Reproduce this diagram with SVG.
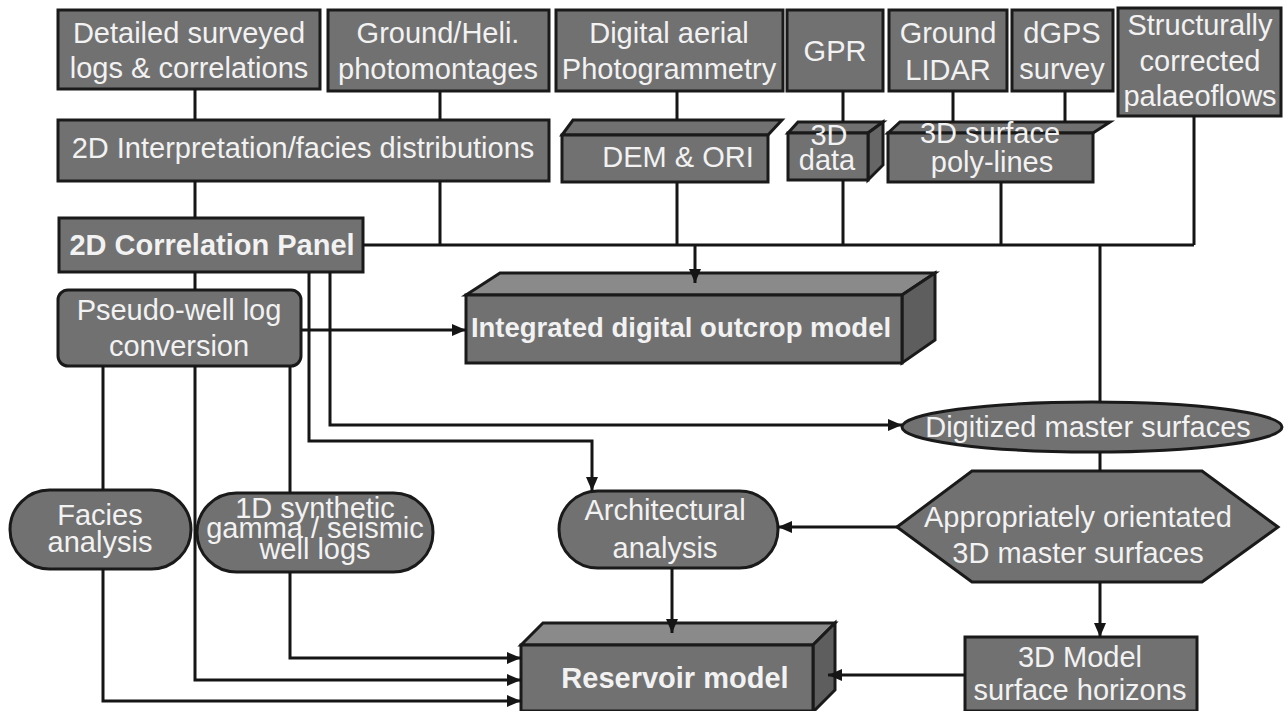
<svg xmlns="http://www.w3.org/2000/svg" width="1286" height="711" viewBox="0 0 1286 711">
<style>
.n{fill:#717171;stroke:#1a1a1a;stroke-width:3;stroke-linejoin:miter}
.top{fill:#8a8a8a;stroke:#1a1a1a;stroke-width:3}
.side{fill:#5e5e5e;stroke:#1a1a1a;stroke-width:3}
.t{font-family:"Liberation Sans",Arial,sans-serif;font-size:29px;fill:#f2f2f2;text-anchor:middle}
.b{font-weight:bold}
.c{fill:none;stroke:#151515;stroke-width:3}
.a{marker-end:url(#ah)}
</style>
<defs>
<marker id="ah" viewBox="0 0 14 12" refX="14" refY="6" markerWidth="14" markerHeight="12" markerUnits="userSpaceOnUse" orient="auto">
<path d="M0,0 L14,6 L0,12 z" fill="#151515"/>
</marker>
</defs>
<rect width="1286" height="711" fill="#ffffff"/>

<g id="detailed">
<rect class="n" x="58" y="10" width="262" height="79"/>
<text class="t" x="189" y="43">Detailed surveyed</text>
<text class="t" x="189" y="78">logs &amp; correlations</text>
</g>
<g id="photomontages">
<rect class="n" x="328" y="10" width="221" height="81"/>
<text class="t" x="438" y="43">Ground/Heli.</text>
<text class="t" x="438" y="79">photomontages</text>
</g>
<g id="photogrammetry">
<rect class="n" x="556" y="10" width="227" height="81"/>
<text class="t" x="669" y="43">Digital aerial</text>
<text class="t" x="669" y="79">Photogrammetry</text>
</g>
<g id="gpr">
<rect class="n" x="787" y="10" width="96" height="81"/>
<text class="t" x="835" y="61">GPR</text>
</g>
<g id="lidar">
<rect class="n" x="889" y="10" width="118" height="81"/>
<text class="t" x="948" y="43">Ground</text>
<text class="t" x="948" y="80">LIDAR</text>
</g>
<g id="dgps">
<rect class="n" x="1012" y="10" width="101" height="81"/>
<text class="t" x="1062" y="43">dGPS</text>
<text class="t" x="1062" y="79">survey</text>
</g>
<g id="palaeoflows">
<rect class="n" x="1118" y="8" width="163" height="108"/>
<text class="t" x="1200" y="35">Structurally</text>
<text class="t" x="1200" y="71">corrected</text>
<text class="t" x="1200" y="106">palaeoflows</text>
</g>

<g id="interp2d">
<rect class="n" x="58" y="120" width="491" height="61"/>
<text class="t" x="303" y="158">2D Interpretation/facies distributions</text>
</g>
<g id="dem">
<polygon class="n" points="562,135 573,120 782,120 768,135"/>
<rect class="n" x="562" y="135" width="206" height="47"/>
<text class="t" x="678" y="167">DEM &amp; ORI</text>
</g>
<g id="data3d">
<polygon class="n" points="788,133 798,122 883,122 868,133"/>
<polygon class="side" points="868,133 883,122 883,165 868,180" style="fill:#666"/>
<rect class="n" x="788" y="133" width="80" height="47"/>
<text class="t" x="829" y="145">3D</text>
<text class="t" x="827" y="170">data</text>
</g>
<g id="polylines">
<polygon class="n" points="888,133 900,122 1110,122 1093,133"/>
<rect class="n" x="888" y="133" width="205" height="49"/>
<text class="t" x="990" y="143">3D surface</text>
<text class="t" x="992" y="172">poly-lines</text>
</g>

<g id="correlation">
<rect class="n" x="59" y="218" width="304" height="54"/>
<text class="t b" x="212" y="255">2D Correlation Panel</text>
</g>
<g id="pseudowell">
<rect class="n" x="58" y="290" width="243" height="76" rx="10"/>
<text class="t" x="179" y="320">Pseudo-well log</text>
<text class="t" x="179" y="356">conversion</text>
</g>
<g id="outcrop">
<polygon class="top" points="466,295 500,273 935,273 902,295"/>
<polygon class="side" points="902,295 935,273 935,340 902,363"/>
<rect class="n" x="466" y="295" width="436" height="68"/>
<text class="t b" x="681" y="337" style="font-size:27.5px">Integrated digital outcrop model</text>
</g>
<g id="digitized">
<ellipse class="n" cx="1092" cy="427" rx="190" ry="25"/>
<text class="t" x="1088" y="437">Digitized master surfaces</text>
</g>
<g id="oriented">
<polygon class="n" points="897,527 972,471 1202,471 1278,527 1202,582 972,582"/>
<text class="t" x="1078" y="527">Appropriately orientated</text>
<text class="t" x="1078" y="563">3D master surfaces</text>
</g>
<g id="facies">
<rect class="n" x="10" y="490" width="181" height="79" rx="39.5"/>
<text class="t" x="100" y="525">Facies</text>
<text class="t" x="100" y="552">analysis</text>
</g>
<g id="synthetic">
<rect class="n" x="197" y="493" width="236" height="79" rx="39.5"/>
<text class="t" x="315" y="518">1D synthetic</text>
<text class="t" x="315" y="538">gamma / seismic</text>
<text class="t" x="315" y="559">well logs</text>
</g>
<g id="architectural">
<rect class="n" x="559" y="491" width="219" height="77" rx="38.5"/>
<text class="t" x="665" y="520">Architectural</text>
<text class="t" x="665" y="558">analysis</text>
</g>
<g id="reservoir">
<polygon class="top" points="521,645 543,623 835,623 813,645"/>
<polygon class="side" points="813,645 835,623 835,690 813,712"/>
<rect class="n" x="521" y="645" width="292" height="66"/>
<text class="t b" x="675" y="688">Reservoir model</text>
</g>
<g id="horizons">
<rect class="n" x="965" y="637" width="232" height="74"/>
<text class="t" x="1080" y="667">3D Model</text>
<text class="t" x="1080" y="700">surface horizons</text>
</g>

<g id="connectors">
<path class="c" d="M195,89V120M195,181V218M440,91V120M440,181V245M677,91V120M677,182V245M843,91V122M843,180V245M953,91V122M1065,91V122M1001,182V245M1194,116V245M363,245H1194M1100,245V402M1100,452V471M195,272V290M103,366V490M290,366V493"/>
<path class="c a" d="M695,245V283"/>
<path class="c a" d="M1100,582V637"/>
<path class="c a" d="M897,527H778"/>
<path class="c a" d="M965,675H828"/>
<path class="c a" d="M301,330H466"/>
<path class="c a" d="M309,272V441H592V491"/>
<path class="c a" d="M330,272V425H902"/>
<path class="c a" d="M103,569V701H521"/>
<path class="c a" d="M195,366V680H521"/>
<path class="c a" d="M290,572V658H521"/>
<path class="c a" d="M672,568V633"/>
</g>
</svg>
